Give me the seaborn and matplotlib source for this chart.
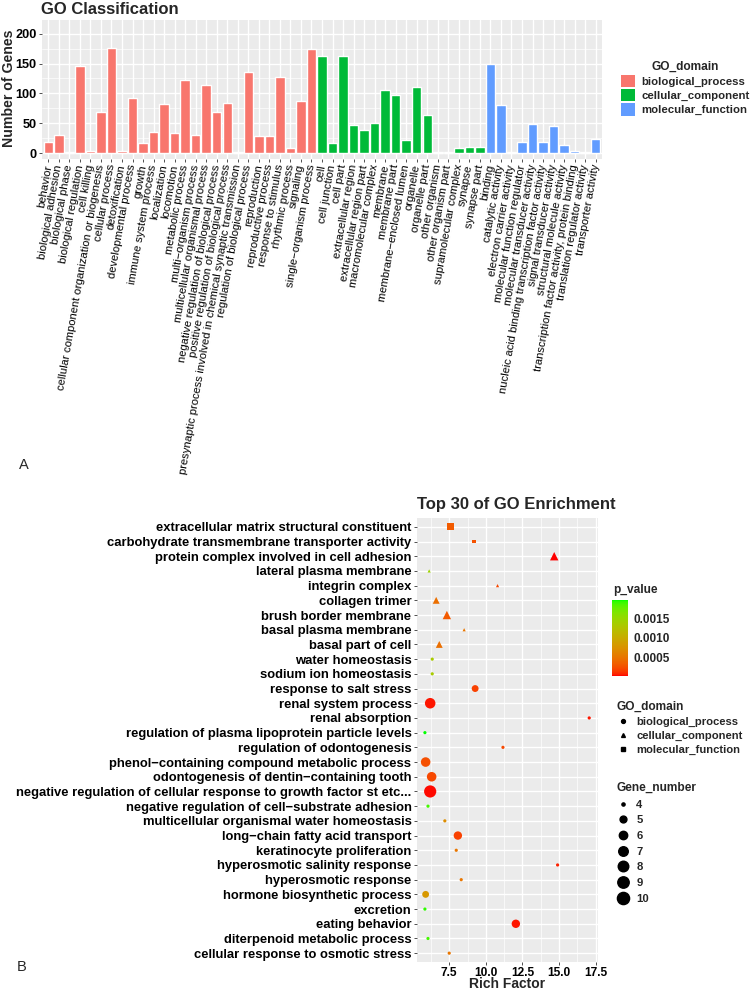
import numpy as np
import pandas as pd
import matplotlib
matplotlib.use("Agg")
import matplotlib.pyplot as plt
from matplotlib.colors import ListedColormap, Normalize
from matplotlib.cm import ScalarMappable
from matplotlib.lines import Line2D
from matplotlib.patches import Patch
from matplotlib.ticker import MultipleLocator
import seaborn as sns

# panel A: GO classification (number of genes per level-2 term)
bp_terms = ["behavior", "biological adhesion", "biological phase", "biological regulation",
            "cell killing", "cellular component organization or biogenesis", "cellular process",
            "detoxification", "developmental process", "growth", "immune system process",
            "localization", "locomotion", "metabolic process", "multi\u2212organism process",
            "multicellular organismal process", "negative regulation of biological process",
            "positive regulation of biological process",
            "presynaptic process involved in chemical synaptic transmission",
            "regulation of biological process", "reproduction", "reproductive process",
            "response to stimulus", "rhythmic process", "signaling", "single\u2212organism process"]
bp_counts = [18, 31, 2, 146, 3, 69, 176, 4, 93, 17, 36, 82, 34, 123, 31, 114, 69, 84, 2, 136,
             28, 28, 127, 9, 88, 175]
cc_terms = ["cell", "cell junction", "cell part", "extracellular region", "extracellular region part",
            "macromolecular complex", "membrane", "membrane part", "membrane\u2212enclosed lumen",
            "organelle", "organelle part", "other organism", "other organism part",
            "supramolecular complex", "synapse", "synapse part"]
cc_counts = [162, 17, 162, 47, 38, 50, 106, 97, 22, 111, 64, 1, 1, 9, 10, 10]
mf_terms = ["binding", "catalytic activity", "electron carrier activity", "molecular function regulator",
            "molecular transducer activity", "nucleic acid binding transcription factor activity",
            "signal transducer activity", "structural molecule activity",
            "transcription factor activity, protein binding", "translation regulator activity",
            "transporter activity"]
mf_counts = [150, 80, 1, 19, 48, 18, 45, 14, 3, 1, 24]

# panel B: top 30 of GO enrichment
enrich_terms = ["extracellular matrix structural constituent", "carbohydrate transmembrane transporter activity",
                "protein complex involved in cell adhesion", "lateral plasma membrane", "integrin complex",
                "collagen trimer", "brush border membrane", "basal plasma membrane", "basal part of cell",
                "water homeostasis", "sodium ion homeostasis", "response to salt stress",
                "renal system process", "renal absorption", "regulation of plasma lipoprotein particle levels",
                "regulation of odontogenesis", "phenol\u2212containing compound metabolic process",
                "odontogenesis of dentin\u2212containing tooth",
                "negative regulation of cellular response to growth factor st etc...",
                "negative regulation of cell\u2212substrate adhesion", "multicellular organismal water homeostasis",
                "long\u2212chain fatty acid transport", "keratinocyte proliferation",
                "hyperosmotic salinity response", "hyperosmotic response", "hormone biosynthetic process",
                "excretion", "eating behavior", "diterpenoid metabolic process",
                "cellular response to osmotic stress"]
enrich_domain = ["molecular_function", "molecular_function"] + ["cellular_component"] * 7 + ["biological_process"] * 21
rich_factor = [7.57, 9.19, 14.67, 6.13, 10.8, 6.61, 7.34, 8.52, 6.82, 6.34, 6.34, 9.27, 6.2, 17.06, 5.84,
               11.17, 5.89, 6.3, 6.2, 6.05, 7.2, 8.09, 7.98, 14.9, 8.32, 5.89, 5.84, 12.05, 6.05, 7.5]
p_value = [0.00031, 0.00025, 0.00001, 0.00145, 0.00020, 0.00045, 0.00030, 0.00050, 0.00045, 0.00135,
           0.00135, 0.00017, 0.00004, 0.00004, 0.00199, 0.00020, 0.00024, 0.00020, 0.00002, 0.00190,
           0.00070, 0.00017, 0.00050, 0.00006, 0.00050, 0.00080, 0.00195, 0.00004, 0.00190, 0.00050]
gene_number = [5, 4, 6, 4, 4, 5, 6, 4, 5, 4, 4, 5, 8, 4, 4, 4, 7, 7, 10, 4, 4, 6, 4, 4, 4, 5, 4, 6, 4, 4]

domains = ["biological_process", "cellular_component", "molecular_function"]
domain_colors = ["#F8766D", "#00BA38", "#619CFF"]


def lab_to_rgb(L, a, b):
    # CIE Lab -> sRGB, used to mimic ggplot's red->green gradient
    fy = (L + 16) / 116
    fx = fy + a / 500
    fz = fy - b / 200
    finv = lambda t: np.where(t > 6 / 29, t ** 3, 3 * (6 / 29) ** 2 * (t - 4 / 29))
    xyz = np.stack([0.95047 * finv(fx), finv(fy), 1.08883 * finv(fz)])
    m = np.array([[3.2406, -1.5372, -0.4986], [-0.9689, 1.8758, 0.0415], [0.0557, -0.2040, 1.0570]])
    rgb = m @ xyz
    rgb = np.where(rgb <= 0.0031308, 12.92 * rgb, 1.055 * np.abs(rgb) ** (1 / 2.4) - 0.055)
    return np.clip(rgb, 0, 1).T


t = np.linspace(0, 1, 256)
red_lab = np.array([53.24, 80.09, 67.20])
green_lab = np.array([87.73, -86.18, 83.18])
lab = red_lab[:, None] + (green_lab - red_lab)[:, None] * t
p_cmap = ListedColormap(lab_to_rgb(*lab))

sns.set_theme(style="darkgrid", rc={"axes.facecolor": "#EBEBEB", "grid.color": "white"})
plt.rcParams["font.family"] = ["Liberation Sans", "DejaVu Sans"]

fig = plt.figure(figsize=(7.5, 9.92), dpi=100)
W, H = 750, 992


def px_axes(x0, y0, x1, y1):
    return fig.add_axes([x0 / W, 1 - y1 / H, (x1 - x0) / W, (y1 - y0) / H])


# ---------------- panel A ----------------
dfA = pd.DataFrame({
    "term": bp_terms + cc_terms + mf_terms,
    "count": bp_counts + cc_counts + mf_counts,
    "domain": [domains[0]] * len(bp_terms) + [domains[1]] * len(cc_terms) + [domains[2]] * len(mf_terms),
})
ax1 = px_axes(42, 20, 602, 159)
sns.barplot(data=dfA, x="term", y="count", hue="domain", dodge=False, palette=domain_colors,
            saturation=1, width=0.9, legend=False, ax=ax1)
ax1.set_xlim(-0.6, len(dfA) - 0.4)
ax1.set_ylim(-10, 223)
ax1.set_yticks([0, 50, 100, 150, 200])
ax1.yaxis.set_minor_locator(MultipleLocator(25))
ax1.grid(which="major", color="white", linewidth=1.0)
ax1.grid(which="minor", axis="y", color="white", linewidth=0.5)
ax1.set_axisbelow(True)
for s in ax1.spines.values():
    s.set_visible(False)
ax1.set_xlabel("")
ax1.set_ylabel("")
ax1.tick_params(axis="both", length=2.5, width=0.6, color="#333333", bottom=True, left=True, pad=1.5)
ax1.tick_params(axis="y", labelsize=9.2, labelcolor="black")
for lab_ in ax1.get_yticklabels():
    lab_.set_fontweight("bold")
ax1.set_xticks(range(len(dfA)))
ax1.set_xticklabels(dfA["term"], rotation=80, ha="right", va="center", rotation_mode="anchor",
                    fontsize=8.1, color="black")
fig.text(9 / W, 1 - 88 / H, "Number of Genes", rotation=90, ha="center", va="center",
         fontsize=10.2, fontweight="bold")
fig.text(41 / W, 1 - 9 / H, "GO Classification", ha="left", va="center", fontsize=12, fontweight="bold")
legA = fig.legend(handles=[Patch(facecolor=c, edgecolor="none") for c in domain_colors], labels=domains,
                  title="GO_domain", loc="upper left", bbox_to_anchor=(611 / W, 1 - 51 / H), frameon=False,
                  fontsize=8.2, title_fontproperties={"weight": "bold", "size": 8.6}, handlelength=1.25,
                  handleheight=1.3, labelspacing=0.15, handletextpad=0.5)
for txt in legA.get_texts():
    txt.set_fontweight("bold")
fig.text(24 / W, 1 - 465 / H, "A", ha="center", va="center", fontsize=10.5)

# ---------------- panel B ----------------
dfB = pd.DataFrame({"term": enrich_terms, "rich": rich_factor, "p": p_value,
                    "genes": gene_number, "domain": enrich_domain})
p_norm = Normalize(min(p_value), max(p_value))
gene_levels = list(range(4, 11))
gene_sizes = {g: (0.72 * (3.2 + 9 * np.sqrt((g - 4) / 6))) ** 2 for g in gene_levels}
markers = {"biological_process": "o", "cellular_component": "^", "molecular_function": "s"}

ax2 = px_axes(417, 518, 598, 962)
sns.scatterplot(data=dfB, x="rich", y="term", hue="p", palette=p_cmap, hue_norm=p_norm,
                size="genes", sizes=gene_sizes, style="domain", markers=markers,
                linewidth=0, legend=False, ax=ax2)
ax2.set_ylim(len(dfB) - 0.4, -0.6)
ax2.set_xlim(5.3, 17.66)
ax2.set_xticks([7.5, 10, 12.5, 15, 17.5])
ax2.set_xticklabels(["7.5", "10.0", "12.5", "15.0", "17.5"])
ax2.xaxis.set_minor_locator(MultipleLocator(2.5, offset=1.25))
ax2.grid(which="major", color="white", linewidth=1.0)
ax2.grid(which="minor", axis="x", color="white", linewidth=0.5)
ax2.set_axisbelow(True)
for s in ax2.spines.values():
    s.set_visible(False)
ax2.set_xlabel("")
ax2.set_ylabel("")
ax2.tick_params(axis="both", length=2.5, width=0.6, color="#333333", bottom=True, left=True, pad=1.5)
ax2.tick_params(axis="x", labelsize=8.6, labelcolor="black", pad=0.8)
ax2.tick_params(axis="y", labelsize=9.4, labelcolor="black")
for lab_ in ax2.get_xticklabels() + ax2.get_yticklabels():
    lab_.set_fontweight("bold")
fig.text(417 / W, 1 - 505 / H, "Top 30 of GO Enrichment", ha="left", va="center", fontsize=12,
         fontweight="bold")
fig.text(507 / W, 1 - 984.5 / H, "Rich Factor", ha="center", va="center", fontsize=10, fontweight="bold")
fig.text(22 / W, 1 - 967 / H, "B", ha="center", va="center", fontsize=10.5)

# p_value colourbar
fig.text(613 / W, 1 - 590 / H, "p_value", ha="left", va="center", fontsize=8.6, fontweight="bold")
cax = px_axes(612, 600, 628, 676)
cb = fig.colorbar(ScalarMappable(norm=p_norm, cmap=p_cmap), cax=cax)
cb.outline.set_visible(False)
cb.set_ticks([0.0005, 0.0010, 0.0015])
cb.set_ticklabels(["0.0005", "0.0010", "0.0015"])
cax.tick_params(direction="in", length=3, width=0.8, color="white", labelsize=8.5, pad=4)
for lab_ in cax.get_yticklabels():
    lab_.set_fontweight("bold")

# shape legend
shape_handles = [Line2D([], [], marker=markers[d], color="black", linestyle="", markersize=2.8) for d in domains]
legS = fig.legend(handles=shape_handles, labels=domains, title="GO_domain", loc="upper left",
                  bbox_to_anchor=(606 / W, 1 - 691 / H), frameon=False, fontsize=8.1, alignment="left",
                  title_fontproperties={"weight": "bold", "size": 8.6}, handlelength=1.2,
                  labelspacing=0.35, handletextpad=0.6)
for txt in legS.get_texts():
    txt.set_fontweight("bold")

# size legend
size_handles = [Line2D([], [], marker="o", color="black", linestyle="", markersize=np.sqrt(gene_sizes[g]))
                for g in gene_levels]
legG = fig.legend(handles=size_handles, labels=[str(g) for g in gene_levels], title="Gene_number",
                  loc="upper left", bbox_to_anchor=(606 / W, 1 - 772 / H), frameon=False, fontsize=8.1,
                  alignment="left", title_fontproperties={"weight": "bold", "size": 8.6}, handlelength=1.2,
                  labelspacing=0.5, handletextpad=0.6)
for txt in legG.get_texts():
    txt.set_fontweight("bold")

fig.savefig("out.png", dpi=100)
